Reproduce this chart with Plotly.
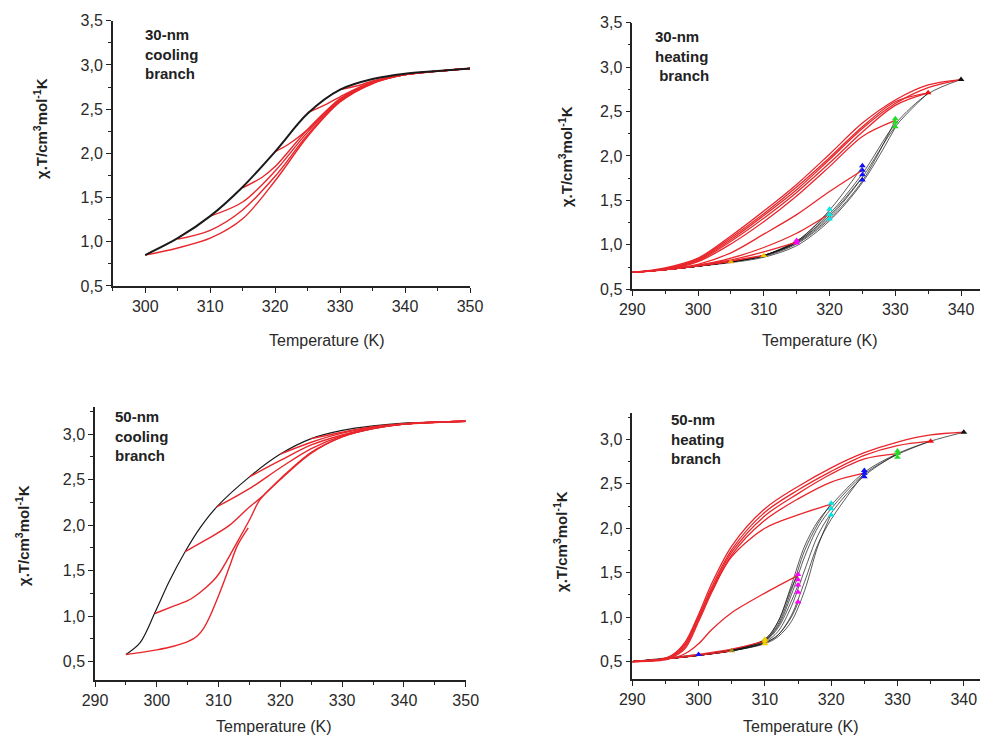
import plotly.graph_objects as go

# ---------------- Panel A: 30-nm cooling branch ----------------
A_black_T = [300, 305, 310, 315, 320, 325, 330, 335, 340, 345, 350]
A_black_y = [0.85, 1.04, 1.29, 1.62, 2.02, 2.45, 2.72, 2.84, 2.90, 2.93, 2.96]
A_red_T = [
    [300, 305, 310, 315, 320, 325, 330, 335, 340, 345, 350],
    [305, 310, 315, 320, 325, 330, 335, 340, 345, 350],
    [310, 315, 320, 325, 330, 335, 340, 345, 350],
    [315, 318, 320, 325, 330, 335, 340, 345, 350],
    [320, 322, 325, 330, 335, 340, 345, 350],
    [325, 328, 330, 335, 340, 345, 350],
    [330, 333, 335, 340, 345, 350],
]
A_red_y = [
    [0.85, 0.93, 1.04, 1.26, 1.69, 2.19, 2.58, 2.79, 2.89, 2.93, 2.96],
    [1.03, 1.13, 1.36, 1.74, 2.21, 2.59, 2.79, 2.89, 2.93, 2.96],
    [1.29, 1.45, 1.80, 2.24, 2.60, 2.80, 2.89, 2.93, 2.96],
    [1.61, 1.73, 1.85, 2.27, 2.61, 2.80, 2.89, 2.93, 2.96],
    [2.02, 2.10, 2.27, 2.62, 2.80, 2.89, 2.93, 2.96],
    [2.46, 2.56, 2.64, 2.81, 2.89, 2.93, 2.96],
    [2.72, 2.77, 2.82, 2.89, 2.93, 2.96],
]

# ---------------- Panel B: 30-nm heating branch ----------------
B_black_T = [
    [290, 295, 300, 305, 310, 315, 320, 325, 330, 335, 340],
    [290, 295, 300, 305, 310, 315, 320, 325, 330, 335],
    [290, 295, 300, 305, 310, 315, 320, 325, 330],
    [290, 295, 300, 305, 310, 315, 320, 325, 330],
    [290, 295, 300, 305, 310, 315, 320, 325],
    [290, 295, 300, 305, 310, 315, 320, 325],
    [290, 295, 300, 305, 310, 315, 320],
    [290, 295, 300, 305, 310, 315],
    [290, 295, 300, 305, 310],
    [290, 295, 300, 305],
]
B_black_y = [
    [0.69, 0.72, 0.76, 0.81, 0.88, 1.03, 1.35, 1.80, 2.36, 2.70, 2.86],
    [0.69, 0.72, 0.76, 0.81, 0.88, 1.02, 1.31, 1.76, 2.33, 2.71],
    [0.69, 0.72, 0.76, 0.81, 0.87, 1.01, 1.29, 1.72, 2.40],
    [0.69, 0.72, 0.76, 0.80, 0.86, 0.99, 1.27, 1.70, 2.32],
    [0.69, 0.72, 0.76, 0.81, 0.88, 1.04, 1.39, 1.88],
    [0.69, 0.72, 0.76, 0.81, 0.88, 1.03, 1.33, 1.76],
    [0.69, 0.72, 0.76, 0.81, 0.88, 1.04, 1.37],
    [0.69, 0.72, 0.76, 0.81, 0.88, 1.04],
    [0.69, 0.72, 0.76, 0.81, 0.88],
    [0.69, 0.72, 0.76, 0.81],
]
B_red_T = [
    [340, 335, 330, 325, 320, 315, 310, 305, 300, 295, 290],
    [340, 335, 330, 325, 320, 315, 310, 305, 300, 295, 290],
    [335, 330, 325, 320, 315, 310, 305, 300, 295, 290],
    [335, 330, 325, 320, 315, 310, 305, 300, 295, 290],
    [330, 325, 320, 315, 310, 305, 300, 295, 290],
    [325, 320, 315, 310, 305, 300, 295, 290],
    [320, 315, 310, 305, 300, 295, 290],
    [315, 310, 305, 300, 295, 290],
    [310, 305, 300, 295, 290],
    [305, 300, 295, 290],
]
B_red_y = [
    [2.86, 2.80, 2.63, 2.37, 2.02, 1.68, 1.38, 1.10, 0.85, 0.74, 0.69],
    [2.86, 2.77, 2.59, 2.31, 1.96, 1.62, 1.33, 1.06, 0.83, 0.73, 0.69],
    [2.71, 2.61, 2.33, 1.98, 1.65, 1.35, 1.08, 0.84, 0.73, 0.69],
    [2.71, 2.57, 2.27, 1.92, 1.59, 1.30, 1.04, 0.82, 0.73, 0.69],
    [2.40, 2.22, 1.88, 1.55, 1.26, 1.01, 0.81, 0.72, 0.69],
    [1.84, 1.60, 1.34, 1.12, 0.91, 0.78, 0.72, 0.69],
    [1.35, 1.13, 0.97, 0.85, 0.77, 0.72, 0.69],
    [1.03, 0.92, 0.83, 0.77, 0.72, 0.69],
    [0.88, 0.82, 0.77, 0.72, 0.69],
    [0.81, 0.76, 0.72, 0.69],
]
B_mark_T = [305, 310, 315, 315, 320, 320, 320, 325, 325, 325, 325, 330, 330, 330, 335, 340]
B_mark_y = [0.81, 0.88, 1.02, 1.05, 1.29, 1.34, 1.40, 1.73, 1.79, 1.84, 1.89, 2.33, 2.38, 2.42, 2.71, 2.86]
B_mark_c = ["#e8a317", "#f5c400", "#ff00ff", "#ff00ff", "#00e5e5", "#00e5e5", "#00e5e5",
            "#1010ff", "#1010ff", "#1010ff", "#1010ff", "#22dd22", "#22dd22", "#22dd22",
            "#ee1111", "#111111"]

# ---------------- Panel C: 50-nm cooling branch ----------------
C_black_T = [295, 297.3, 299.7, 302, 304.6, 307, 309.7, 315, 320, 325, 330, 335, 340, 345, 350]
C_black_y = [0.58, 0.71, 1.04, 1.38, 1.71, 1.97, 2.20, 2.53, 2.78, 2.95, 3.04, 3.09, 3.12, 3.13, 3.14]
C_red_T = [
    [295, 297.3, 300, 302.7, 305, 306.5, 307.6, 308.6, 310.2, 311.8, 313, 314.8],
    [299.7, 302.7, 305, 307, 309, 310.2, 312.9, 315.1, 316.7, 320, 325, 330, 335, 340, 350],
    [304.6, 308, 311.8, 315, 317, 320, 325, 330, 335, 340, 350],
    [309.7, 315, 320, 325, 330, 335, 340, 350],
    [315, 320, 325, 330, 335, 340, 350],
    [320, 325, 330, 335, 340, 350],
    [325, 330, 335, 340, 350],
]
C_red_y = [
    [0.58, 0.60, 0.63, 0.67, 0.72, 0.78, 0.87, 1.00, 1.26, 1.55, 1.77, 1.97],
    [1.03, 1.11, 1.17, 1.26, 1.38, 1.48, 1.80, 2.07, 2.28, 2.50, 2.79, 2.97, 3.06, 3.11, 3.14],
    [1.71, 1.84, 2.00, 2.20, 2.31, 2.51, 2.80, 2.97, 3.06, 3.11, 3.14],
    [2.20, 2.40, 2.63, 2.84, 2.98, 3.06, 3.11, 3.14],
    [2.53, 2.71, 2.88, 2.99, 3.07, 3.11, 3.14],
    [2.78, 2.91, 3.01, 3.07, 3.11, 3.14],
    [2.95, 3.02, 3.08, 3.11, 3.14],
]

# ---------------- Panel D: 50-nm heating branch ----------------
D_black_T = [
    [290, 295, 300, 305, 310, 312, 314, 316, 318, 320, 325, 330, 335, 340],
    [290, 295, 300, 305, 310, 312, 314, 316, 318, 320, 325, 330, 335],
    [290, 295, 300, 305, 310, 312, 314, 316, 318, 320, 325, 330],
    [290, 295, 300, 305, 310, 312, 314, 316, 318, 320, 325],
    [290, 295, 300, 305, 310, 312, 314, 316, 318, 320],
    [290, 295, 300, 305, 310, 312, 314, 316, 318, 320],
    [290, 295, 300, 305, 310, 312, 314, 315],
    [290, 295, 300, 305, 310, 312, 314, 315],
    [290, 295, 300, 305, 310, 312, 314, 315],
    [290, 295, 300, 305, 310],
    [290, 295, 300, 305],
    [290, 295, 300],
]
D_black_y = [
    [0.50, 0.53, 0.57, 0.63, 0.75, 0.95, 1.36, 1.80, 2.08, 2.26, 2.63, 2.84, 2.98, 3.08],
    [0.50, 0.53, 0.57, 0.63, 0.74, 0.90, 1.25, 1.68, 2.01, 2.22, 2.61, 2.83, 2.98],
    [0.50, 0.53, 0.57, 0.62, 0.72, 0.84, 1.12, 1.53, 1.92, 2.17, 2.59, 2.84],
    [0.50, 0.53, 0.57, 0.62, 0.71, 0.80, 1.02, 1.40, 1.82, 2.10, 2.62],
    [0.50, 0.53, 0.57, 0.63, 0.74, 0.92, 1.30, 1.75, 2.05, 2.28],
    [0.50, 0.53, 0.57, 0.62, 0.70, 0.78, 0.95, 1.30, 1.80, 2.16],
    [0.50, 0.53, 0.57, 0.63, 0.75, 0.95, 1.33, 1.48],
    [0.50, 0.53, 0.57, 0.62, 0.71, 0.80, 1.00, 1.16],
    [0.50, 0.53, 0.57, 0.63, 0.73, 0.88, 1.18, 1.36],
    [0.50, 0.53, 0.57, 0.63, 0.73],
    [0.50, 0.53, 0.57, 0.62],
    [0.50, 0.54, 0.58],
]
D_red_T = [
    [340, 335, 330, 325, 320, 315, 310, 305, 302, 300, 298, 296, 294, 290],
    [335, 330, 325, 320, 315, 310, 305, 302, 300, 298, 296, 294, 290],
    [330, 325, 320, 315, 310, 305, 302, 300, 298, 296, 294, 290],
    [325, 320, 315, 310, 305, 302, 300, 298, 296, 294, 290],
    [320, 315, 310, 305, 302, 300, 298, 296, 294, 290],
    [315, 310, 305, 302, 300, 298, 295, 290],
    [310, 305, 300, 295, 290],
    [305, 300, 295, 290],
]
D_red_y = [
    [3.08, 3.05, 2.97, 2.85, 2.68, 2.47, 2.22, 1.80, 1.38, 1.03, 0.72, 0.57, 0.52, 0.50],
    [2.98, 2.93, 2.82, 2.64, 2.43, 2.18, 1.76, 1.34, 1.00, 0.69, 0.56, 0.52, 0.50],
    [2.84, 2.78, 2.61, 2.39, 2.14, 1.73, 1.31, 0.97, 0.67, 0.55, 0.52, 0.50],
    [2.62, 2.52, 2.33, 2.09, 1.70, 1.28, 0.95, 0.65, 0.55, 0.52, 0.50],
    [2.27, 2.15, 2.00, 1.68, 1.30, 1.00, 0.70, 0.57, 0.52, 0.50],
    [1.47, 1.27, 1.05, 0.86, 0.70, 0.59, 0.52, 0.50],
    [0.73, 0.64, 0.58, 0.53, 0.50],
    [0.62, 0.57, 0.53, 0.50],
]
D_mark_T = [300, 305, 310, 310, 310, 315, 315, 315, 315, 315, 320, 320, 320, 325, 325, 325, 330, 330, 330, 335, 340]
D_mark_y = [0.58, 0.62, 0.70, 0.73, 0.75, 1.17, 1.28, 1.36, 1.42, 1.48, 2.15, 2.22, 2.28,
            2.58, 2.62, 2.65, 2.80, 2.84, 2.87, 2.98, 3.08]
D_mark_c = ["#1010ff", "#9a8a20", "#f5d000", "#f5d000", "#f5d000", "#ff00ff", "#ff00ff", "#ff00ff",
            "#ff00ff", "#ff00ff", "#00e5e5", "#00e5e5", "#00e5e5", "#1010ff", "#1010ff", "#1010ff",
            "#22dd22", "#22dd22", "#22dd22", "#ee1111", "#111111"]

RED = "#e8262b"
BLACK = "#1a1a1a"

fig = go.Figure()


def add_line(T, y, color, width, ax):
    fig.add_trace(go.Scatter(x=T, y=y, mode="lines", xaxis="x" + ax, yaxis="y" + ax,
                             line=dict(color=color, width=width, shape="spline", smoothing=0.9),
                             showlegend=False, hoverinfo="skip"))


# Panel A
for T, y in zip(A_red_T, A_red_y):
    add_line(T, y, RED, 1.4, "")
add_line(A_black_T, A_black_y, BLACK, 2.0, "")

# Panel B
for T, y in zip(B_black_T, B_black_y):
    add_line(T, y, "rgba(20,20,20,0.7)", 1.0, "2")
for T, y in zip(B_red_T, B_red_y):
    add_line(T, y, RED, 1.3, "2")
fig.add_trace(go.Scatter(x=B_mark_T, y=B_mark_y, mode="markers", xaxis="x2", yaxis="y2",
                         marker=dict(symbol="triangle-up", size=6, color=B_mark_c),
                         showlegend=False, hoverinfo="skip"))

# Panel C
add_line(C_black_T, C_black_y, BLACK, 1.2, "3")
for T, y in zip(C_red_T, C_red_y):
    add_line(T, y, RED, 1.4, "3")

# Panel D
for T, y in zip(D_black_T, D_black_y):
    add_line(T, y, "rgba(20,20,20,0.7)", 1.0, "4")
for T, y in zip(D_red_T, D_red_y):
    add_line(T, y, RED, 1.3, "4")
fig.add_trace(go.Scatter(x=D_mark_T, y=D_mark_y, mode="markers", xaxis="x4", yaxis="y4",
                         marker=dict(symbol="triangle-up", size=6, color=D_mark_c),
                         showlegend=False, hoverinfo="skip"))

FONT = "Arial, Liberation Sans, sans-serif"
tickfont = dict(family=FONT, size=16, color="#2a2a2a")


def xax(domain, rng, anchor):
    return dict(domain=domain, range=rng, anchor=anchor, automargin=False, showline=True,
                linecolor="#222", linewidth=1.5, ticks="outside", ticklen=5, tickwidth=1.3,
                tickcolor="#222", dtick=10, tick0=290, showgrid=False, zeroline=False,
                tickfont=tickfont,
                minor=dict(ticks="outside", ticklen=3, dtick=5, tick0=290, tickcolor="#222"))


def yax(domain, rng, anchor):
    return dict(domain=domain, range=rng, anchor=anchor, automargin=False, showline=True,
                linecolor="#222", linewidth=1.5, ticks="outside", ticklen=5, tickwidth=1.3,
                tickcolor="#222", dtick=0.5, tick0=0.5, tickformat=".1f", showgrid=False,
                zeroline=False, tickfont=tickfont,
                minor=dict(ticks="outside", ticklen=3, dtick=0.25, tick0=0.5, tickcolor="#222"))


ytitle = "<b>χ.T/cm<sup>3</sup>mol<sup>-1</sup>K</b>"
ann = []
for (x, y) in [(0.3262, 0.5452), (0.8303, 0.5452), (0.2720, 0.0152), (0.8108, 0.0151)]:
    ann.append(dict(text="Temperature (K)", x=x, y=y, xref="paper", yref="paper",
                    xanchor="center", yanchor="middle",
                    showarrow=False, font=dict(family=FONT, size=16, color="#2a2a2a")))
for (x, y) in [(0.0327, 0.8356), (0.5706, 0.7959), (0.0153, 0.2781), (0.5654, 0.2699)]:
    ann.append(dict(text=ytitle, x=x, y=y, xref="paper", yref="paper", textangle=-90,
                    xanchor="center", yanchor="middle",
                    showarrow=False, font=dict(family=FONT, size=15, color="#222")))
labels = [("30-nm<br>cooling<br>branch", 0.1380, 0.978),
          ("30-nm<br>heating<br>&nbsp;branch", 0.6595, 0.9758),
          ("50-nm<br>cooling<br>branch", 0.1074, 0.4552),
          ("50-nm<br>heating<br>branch", 0.6759, 0.4507)]
for t, x, y in labels:
    ann.append(dict(text="<b>" + t + "</b>", x=x, y=y, xref="paper", yref="paper",
                    xanchor="left", yanchor="top", align="left", showarrow=False,
                    font=dict(family=FONT, size=15, color="#222")))

fig.update_layout(
    width=978, height=730, margin=dict(l=0, r=0, t=0, b=0, autoexpand=False),
    paper_bgcolor="white", plot_bgcolor="white", separators=",.",
    xaxis=xax([0.1071, 0.4724], [295, 350], "y"),
    yaxis=yax([0.6192, 0.9826], [0.5, 3.5], "x"),
    xaxis2=xax([0.6383, 1.0], [290, 343.8], "y2"),
    yaxis2=yax([0.6147, 0.9799], [0.5, 3.5], "x2"),
    xaxis3=xax([0.0890, 0.4680], [290, 350], "y3"),
    yaxis3=yax([0.0795, 0.4538], [0.3, 3.3], "x3"),
    xaxis4=xax([0.6383, 1.0], [290, 343.35], "y4"),
    yaxis4=yax([0.0804, 0.4456], [0.3, 3.3], "x4"),
    annotations=ann,
)

fig.write_html("out.html")
